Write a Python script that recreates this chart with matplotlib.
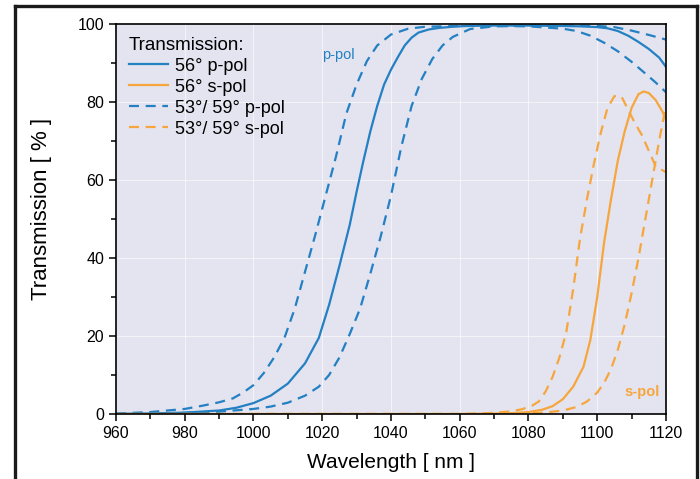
import numpy as np
import matplotlib.pyplot as plt
from matplotlib.lines import Line2D

plt.rcParams['font.family'] = ['Liberation Sans', 'DejaVu Sans']

BLUE = '#2280c3'
ORANGE = '#f6a63c'
BG = '#e4e3f0'

# 56 deg p-pol
wl_p56 = [960, 970, 980, 990, 995, 1000, 1005, 1010, 1015, 1019, 1022, 1025, 1028, 1030,
          1032, 1034, 1036, 1038, 1040, 1042, 1044, 1046, 1048, 1051, 1054, 1058, 1062,
          1070, 1080, 1090, 1095, 1100, 1103, 1106, 1109, 1112, 1115, 1118, 1120]
t_p56 = [0.05, 0.15, 0.35, 0.9, 1.6, 2.8, 4.7, 7.8, 13, 19.5, 28, 38, 48.5, 57,
         65, 72.5, 79, 84.5, 88.3, 91.5, 94.5, 96.5, 97.8, 98.6, 99, 99.3, 99.5,
         99.6, 99.6, 99.5, 99.4, 99.2, 98.9, 98.2, 97.0, 95.4, 93.6, 91.4, 89]

# 53 deg p-pol (shifted to shorter wavelength)
wl_p53 = [960, 970, 980, 985, 990, 994, 997, 1000, 1003, 1006, 1009, 1012, 1015, 1018,
          1021, 1024, 1027, 1030, 1033, 1036, 1040, 1045, 1050, 1060, 1070, 1080, 1090,
          1094, 1098, 1102, 1106, 1110, 1114, 1117, 1120]
t_p53 = [0.1, 0.5, 1.3, 2.1, 3.0, 4.0, 5.5, 7.4, 10.5, 14.5, 19.5, 27, 36.5, 46,
         56, 66, 77, 84.5, 90.5, 94.5, 97.3, 98.8, 99.3, 99.5, 99.5, 99.4, 98.8,
         98.2, 97.0, 95.2, 93.0, 90.3, 87.3, 85, 82.5]

# 59 deg p-pol
wl_p59 = [960, 970, 980, 990, 1000, 1005, 1010, 1015, 1019, 1022, 1025, 1028, 1031, 1034,
          1037, 1040, 1043, 1046, 1049, 1052, 1055, 1058, 1063, 1070, 1080, 1090, 1100,
          1105, 1110, 1115, 1120]
t_p59 = [0.05, 0.15, 0.3, 0.6, 1.3, 1.9, 2.9, 4.7, 7.0, 10, 14.5, 20.5, 27, 36,
         45.5, 56, 68.5, 79, 86, 91, 94.5, 96.7, 98.7, 99.4, 99.6, 99.6, 99.5,
         99.2, 98.3, 97.2, 96]

# 56 deg s-pol
wl_s56 = [960, 1060, 1070, 1075, 1080, 1084, 1087, 1090, 1093, 1096, 1098, 1100, 1102,
          1104, 1106, 1108, 1110, 1112, 1113.5, 1115, 1117, 1119, 1120]
t_s56 = [0, 0, 0.1, 0.2, 0.5, 1.1, 2.0, 3.8, 7, 12.1, 19, 30, 44,
         55, 65, 72.5, 78.5, 82, 82.7, 82.3, 80.5, 77.5, 75.5]

# 53 deg s-pol
wl_s53 = [960, 1060, 1065, 1070, 1075, 1078, 1081, 1083, 1085, 1087, 1089, 1091, 1093,
          1095, 1097, 1099, 1101, 1103, 1105, 1107, 1109, 1111, 1113, 1115, 1117, 1120]
t_s53 = [0, 0, 0.1, 0.3, 0.7, 1.2, 2.1, 3.2, 5.8, 9.5, 14.5, 21, 32,
         45, 55, 64, 72, 78.5, 81.5, 81.5, 78, 74.5, 71.5, 67.5, 63.5, 62]

# 59 deg s-pol
wl_s59 = [960, 1070, 1080, 1085, 1090, 1094, 1097, 1100, 1102, 1104, 1106, 1108, 1110,
          1112, 1114, 1116, 1118, 1120]
t_s59 = [0, 0, 0.2, 0.4, 0.9, 1.8, 3.2, 5.5, 8, 11.5, 16.5, 23, 31,
         40, 50, 60, 70, 79]

x_ticks = np.arange(960, 1121, 20)
y_ticks = np.arange(0, 101, 20)

fig = plt.figure(figsize=(7, 4.79), dpi=100)
ax = fig.add_axes([0.1657, 0.1357, 0.7857, 0.8142])
ax.set_facecolor(BG)

dash = (4.5, 3)
lw = 1.6
ax.plot(wl_p56, t_p56, color=BLUE, lw=lw, label='56° p-pol')
ax.plot(wl_s56, t_s56, color=ORANGE, lw=lw, label='56° s-pol')
ax.plot(wl_p53, t_p53, color=BLUE, lw=lw, dashes=dash, label='53°/ 59° p-pol')
ax.plot(wl_p59, t_p59, color=BLUE, lw=lw, dashes=dash)
ax.plot(wl_s53, t_s53, color=ORANGE, lw=lw, dashes=dash, label='53°/ 59° s-pol')
ax.plot(wl_s59, t_s59, color=ORANGE, lw=lw, dashes=dash)

ax.set_xlim(960, 1120)
ax.set_ylim(0, 100)
ax.set_xticks(x_ticks)
ax.set_yticks(y_ticks)
ax.set_xticks(np.arange(970, 1120, 20), minor=True)
ax.set_yticks(np.arange(10, 100, 20), minor=True)
ax.grid(True, which='major', color='white', lw=0.6, alpha=0.7)
ax.set_axisbelow(True)
ax.tick_params(which='major', direction='out', length=5, width=1.1, labelsize=11.5)
ax.tick_params(which='minor', direction='out', length=3.5, width=1.1)
for s in ax.spines.values():
    s.set_linewidth(1.2)

ax.set_xlabel('Wavelength [ nm ]', fontsize=15, labelpad=9)
ax.set_ylabel('Transmission [ % ]', fontsize=16)
ax.yaxis.set_label_coords(-0.116, 0.527)

ax.text(1020, 92, 'p-pol', color=BLUE, fontsize=10.5, va='center')
ax.text(1108, 5.6, 's-pol', color=ORANGE, fontsize=10.5, fontweight='bold', va='center')

leg = ax.legend(title='Transmission:', loc='upper left', frameon=False,
                fontsize=13, title_fontsize=13.5, handlelength=2.2,
                handletextpad=0.35, labelspacing=0.22, borderaxespad=0.3,
                bbox_to_anchor=(0.0, 1.0))
leg._legend_box.align = 'left'

# outer frame
kw = dict(color='#1a1a1a', lw=2.4, transform=fig.transFigure)
fig.add_artist(Line2D([0.0214, 0.0214], [0, 0.9875], **kw))
fig.add_artist(Line2D([0.0214, 0.9957], [0.9875, 0.9875], **kw))
fig.add_artist(Line2D([0.9957, 0.9957], [0, 0.9875], **kw))

fig.savefig('out.png', dpi=100)
